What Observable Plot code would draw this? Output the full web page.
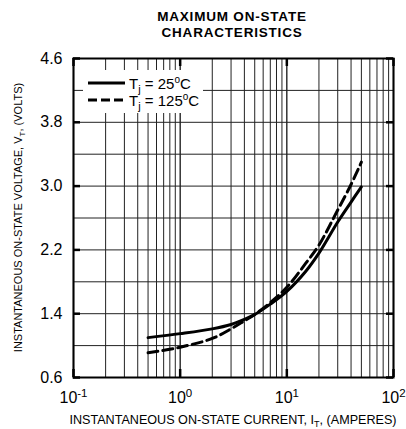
<!DOCTYPE html>
<html>
<head>
<meta charset="utf-8">
<script src="https://cdn.jsdelivr.net/npm/d3@7"></script>
<script src="https://cdn.jsdelivr.net/npm/@observablehq/plot@0.6"></script>
<style>
  html, body { margin: 0; padding: 0; background: #fff; }
  svg { font-family: "Liberation Sans", Arial, sans-serif; }
</style>
</head>
<body>
<div id="chart"></div>
<script>
// ---- data ----
const current25 = [0.5, 1, 2, 3, 4, 5, 7, 10, 15, 20, 30, 40, 50];
const volt25    = [1.10, 1.15, 1.21, 1.265, 1.33, 1.39, 1.52, 1.68, 1.93, 2.16, 2.55, 2.80, 2.99];
const current125 = [0.5, 1, 2, 3, 4, 5, 7, 10, 15, 20, 30, 40, 50];
const volt125    = [0.91, 0.98, 1.09, 1.21, 1.31, 1.39, 1.54, 1.73, 2.03, 2.26, 2.70, 3.02, 3.30];

const xTicks = [0.1, 1, 10, 100];
const xTickLabels = ["10^-1", "10^0", "10^1", "10^2"];
const xGrid = [0.2,0.3,0.4,0.5,0.6,0.7,0.8,0.9, 2,3,4,5,6,7,8,9, 20,30,40,50,60,70,80,90];
const yTicks = [0.6, 1.4, 2.2, 3.0, 3.8, 4.6];
const yGrid = [1.0, 1.4, 1.8, 2.2, 2.6, 3.0, 3.4, 3.8, 4.2];

const titleLines = ["MAXIMUM ON-STATE", "CHARACTERISTICS"];
const legendLabels = [["T", "j", " = 25", "o", "C"], ["T", "j", " = 125", "o", "C"]];

const s25 = current25.map((c, i) => ({I: c, V: volt25[i]}));
const s125 = current125.map((c, i) => ({I: c, V: volt125[i]}));

const W = 406, H = 429;
const mL = 73, mR = 13, mT = 58, mB = 52;
const pw = W - mL - mR, ph = H - mT - mB;

const chart = Plot.plot({
  width: W, height: H,
  marginLeft: mL, marginRight: mR, marginTop: mT, marginBottom: mB,
  style: {fontFamily: "Liberation Sans, Arial, sans-serif", background: "#fff", color: "#000"},
  x: {type: "log", domain: [0.1, 100]},
  y: {domain: [0.6, 4.6]},
  marks: [
    Plot.ruleX(xGrid, {stroke: "#222", strokeWidth: 1}),
    Plot.ruleX(xTicks, {stroke: "#000", strokeWidth: 1.2}),
    Plot.ruleY(yGrid, {stroke: "#222", strokeWidth: 1}),
    // inward heavier tick marks
    Plot.tickY(yTicks, {stroke: "#000", strokeWidth: 2.5, insetRight: pw - 7}),
    Plot.tickY(yTicks, {stroke: "#000", strokeWidth: 2.5, insetLeft: pw - 7}),
    Plot.tickX(xTicks, {stroke: "#000", strokeWidth: 2.5, insetTop: ph - 8}),
    Plot.tickX(xTicks, {stroke: "#000", strokeWidth: 2.5, insetBottom: ph - 8}),
    Plot.axisY(yTicks, {tickSize: 0, tickPadding: 11, fontSize: 16, label: null, tickFormat: d => d.toFixed(1)}),
    Plot.axisX(xTicks, {tickSize: 0, tickPadding: 14, fontSize: 16, label: null,
      tickFormat: d => xTickLabels[xTicks.indexOf(d)]}),
    Plot.line(s25, {x: "I", y: "V", stroke: "#000", strokeWidth: 3, curve: "catmull-rom"}),
    Plot.line(s125, {x: "I", y: "V", stroke: "#000", strokeWidth: 3, strokeDasharray: "10,5", curve: "catmull-rom"}),
    Plot.frame({stroke: "#000", strokeWidth: 2})
  ]
});

document.getElementById("chart").appendChild(chart);
const svg = d3.select(chart);

// superscript x tick labels
svg.selectAll("g[aria-label='x-axis tick label'] text").each(function() {
  const t = d3.select(this);
  const s = t.text();
  const [base, exp] = s.split("^");
  t.text(null);
  t.append("tspan").text(base);
  t.append("tspan").attr("dy", "-0.55em").attr("font-size", "11.5px").text(exp);
});

// title
const cx = mL + pw / 2;
titleLines.forEach((line, i) => {
  svg.append("text").attr("x", cx - 1).attr("y", 21 + i * 15.5)
    .attr("text-anchor", "middle").attr("font-weight", "bold")
    .attr("font-size", "13.5px").attr("letter-spacing", "0.8px")
    .attr("fill", "#000").text(line);
});

// y label
const yl = svg.append("text")
  .attr("transform", `translate(22,${mT + ph / 2}) rotate(-90)`)
  .attr("text-anchor", "middle").attr("font-size", "11px").attr("fill", "#000");
yl.append("tspan").text("INSTANTANEOUS ON-STATE VOLTAGE, V");
yl.append("tspan").attr("font-size", "8px").attr("dy", "3").text("T");
yl.append("tspan").attr("dy", "-3").text(", (VOLTS)");

// x label
const xl = svg.append("text")
  .attr("x", cx).attr("y", 424)
  .attr("text-anchor", "middle").attr("font-size", "12.6px").attr("fill", "#000");
xl.append("tspan").text("INSTANTANEOUS ON-STATE CURRENT, I");
xl.append("tspan").attr("font-size", "9px").attr("dy", "3").text("T");
xl.append("tspan").attr("dy", "-3").text(", (AMPERES)");

// legend
const lg = svg.append("g");
lg.append("rect").attr("x", 83).attr("y", 70).attr("width", 120).attr("height", 43).attr("fill", "#fff");
const dashes = [null, "9,4"];
legendLabels.forEach((parts, i) => {
  const y = 83 + i * 17;
  lg.append("line").attr("x1", 88).attr("x2", 125).attr("y1", y).attr("y2", y)
    .attr("stroke", "#000").attr("stroke-width", 3).attr("stroke-dasharray", dashes[i]);
  const t = lg.append("text").attr("x", 129).attr("y", y + 5.5).attr("text-anchor", "start")
    .attr("font-size", "15px").attr("fill", "#000");
  t.append("tspan").text(parts[0]);
  t.append("tspan").attr("font-size", "11px").attr("dy", 4).text(parts[1]);
  t.append("tspan").attr("dy", -4).text(parts[2]);
  t.append("tspan").attr("font-size", "10px").attr("dy", -6).text(parts[3]);
  t.append("tspan").attr("dy", 6).text(parts[4]);
});
</script>
</body>
</html>
